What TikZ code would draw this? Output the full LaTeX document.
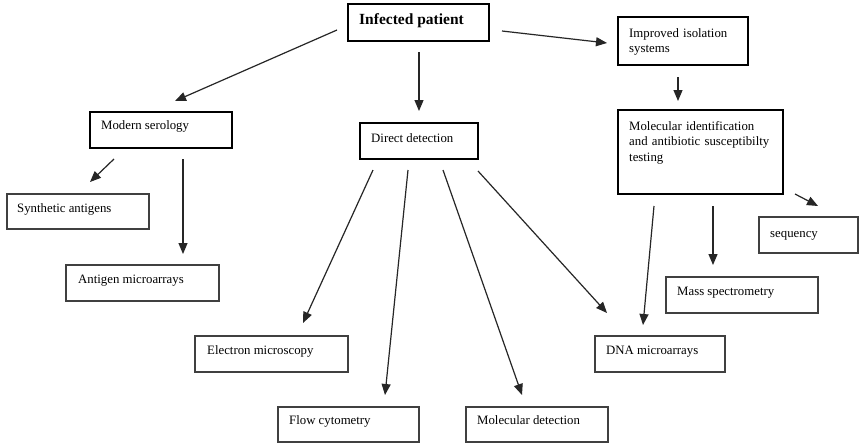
\documentclass[tikz,border=0pt]{standalone}
\usepackage{fontspec}
\setmainfont{Liberation Serif}
\usetikzlibrary{arrows.meta}
\begin{document}
\begin{tikzpicture}[x=1pt,y=-1pt,
  thickbox/.style={draw=black, line width=2.3pt, anchor=north west, inner sep=0pt, outer sep=0pt},
  thinbox/.style={draw=black!75, line width=1.4pt, anchor=north west, inner sep=0pt, outer sep=0pt},
  lbl/.style={anchor=base west, inner sep=0pt, font=\fontsize{12.8}{15.8}\selectfont, align=left},
  arr/.style={draw=black!85, line width=1.2pt, -{Triangle[length=11pt,width=9pt]}}]
\useasboundingbox[fill=white] (0,0) rectangle (862,445);

% boxes
\node[thickbox, minimum width=141pt, minimum height=37pt] (patient) at (348,4) {};
\node[thickbox, minimum width=130pt, minimum height=48pt] (isolation) at (618,17) {};
\node[thickbox, minimum width=165pt, minimum height=84pt] (molid) at (618,110) {};
\node[thickbox, minimum width=142pt, minimum height=36pt] (serology) at (90,112) {};
\node[thickbox, minimum width=118pt, minimum height=36pt] (direct) at (360,123) {};
\node[thinbox, minimum width=142pt, minimum height=35pt] (synthetic) at (7,194) {};
\node[thinbox, minimum width=153pt, minimum height=36pt] (antigen) at (66,265) {};
\node[thinbox, minimum width=153pt, minimum height=36pt] (electron) at (195,336) {};
\node[thinbox, minimum width=141pt, minimum height=35pt] (flow) at (278,407) {};
\node[thinbox, minimum width=142pt, minimum height=35pt] (moldet) at (466,407) {};
\node[thinbox, minimum width=130pt, minimum height=36pt] (dna) at (595,336) {};
\node[thinbox, minimum width=152pt, minimum height=36pt] (mass) at (666,277) {};
\node[thinbox, minimum width=99pt, minimum height=36pt] (sequency) at (759,217) {};

% texts
\node[anchor=base west, inner sep=0pt, font=\fontsize{15.5}{18}\selectfont\bfseries] (tpatient) at (359,24) {Infected patient};
\node[lbl, text width=125pt] (tisolation) at (629,37) {Improved isolation\\systems};
\node[lbl, text width=155pt] (tmolid) at (629,130) {Molecular identification\\and antibiotic susceptibilty\\testing};
\node[lbl] (tserology) at (101,129) {Modern serology};
\node[lbl] (tdirect) at (371,142) {Direct detection};
\node[lbl] (tsynthetic) at (17,212) {Synthetic antigens};
\node[lbl] (tantigen) at (78,283) {Antigen microarrays};
\node[lbl] (telectron) at (207,354) {Electron microscopy};
\node[lbl] (tflow) at (289,424) {Flow cytometry};
\node[lbl] (tmoldet) at (477,424) {Molecular detection};
\node[lbl] (tdna) at (606,354) {DNA microarrays};
\node[lbl] (tmass) at (677,295) {Mass spectrometry};
\node[lbl] (tsequency) at (770,237) {sequency};

% arrow end points
\coordinate (a1s) at (337,30);  \coordinate (a1e) at (175,101);
\coordinate (a2s) at (419,52);  \coordinate (a2e) at (419,111);
\coordinate (a3s) at (502,31);  \coordinate (a3e) at (607,43);
\coordinate (a4s) at (678,77);  \coordinate (a4e) at (678,101);
\coordinate (a5s) at (114,159); \coordinate (a5e) at (90,182);
\coordinate (a6s) at (183,159); \coordinate (a6e) at (183,254);
\coordinate (a7s) at (373,170); \coordinate (a7e) at (303,323);
\coordinate (a8s) at (408,170); \coordinate (a8e) at (385,395);
\coordinate (a9s) at (443,170); \coordinate (a9e) at (522,395);
\coordinate (a10s) at (478,171); \coordinate (a10e) at (607,313);
\coordinate (a11s) at (654,206); \coordinate (a11e) at (643,325);
\coordinate (a12s) at (713,206); \coordinate (a12e) at (713,265);
\coordinate (a13s) at (795,194); \coordinate (a13e) at (818,206);

\foreach \i in {1,...,13} \draw[arr] (a\i s) -- (a\i e);
\end{tikzpicture}
\end{document}
